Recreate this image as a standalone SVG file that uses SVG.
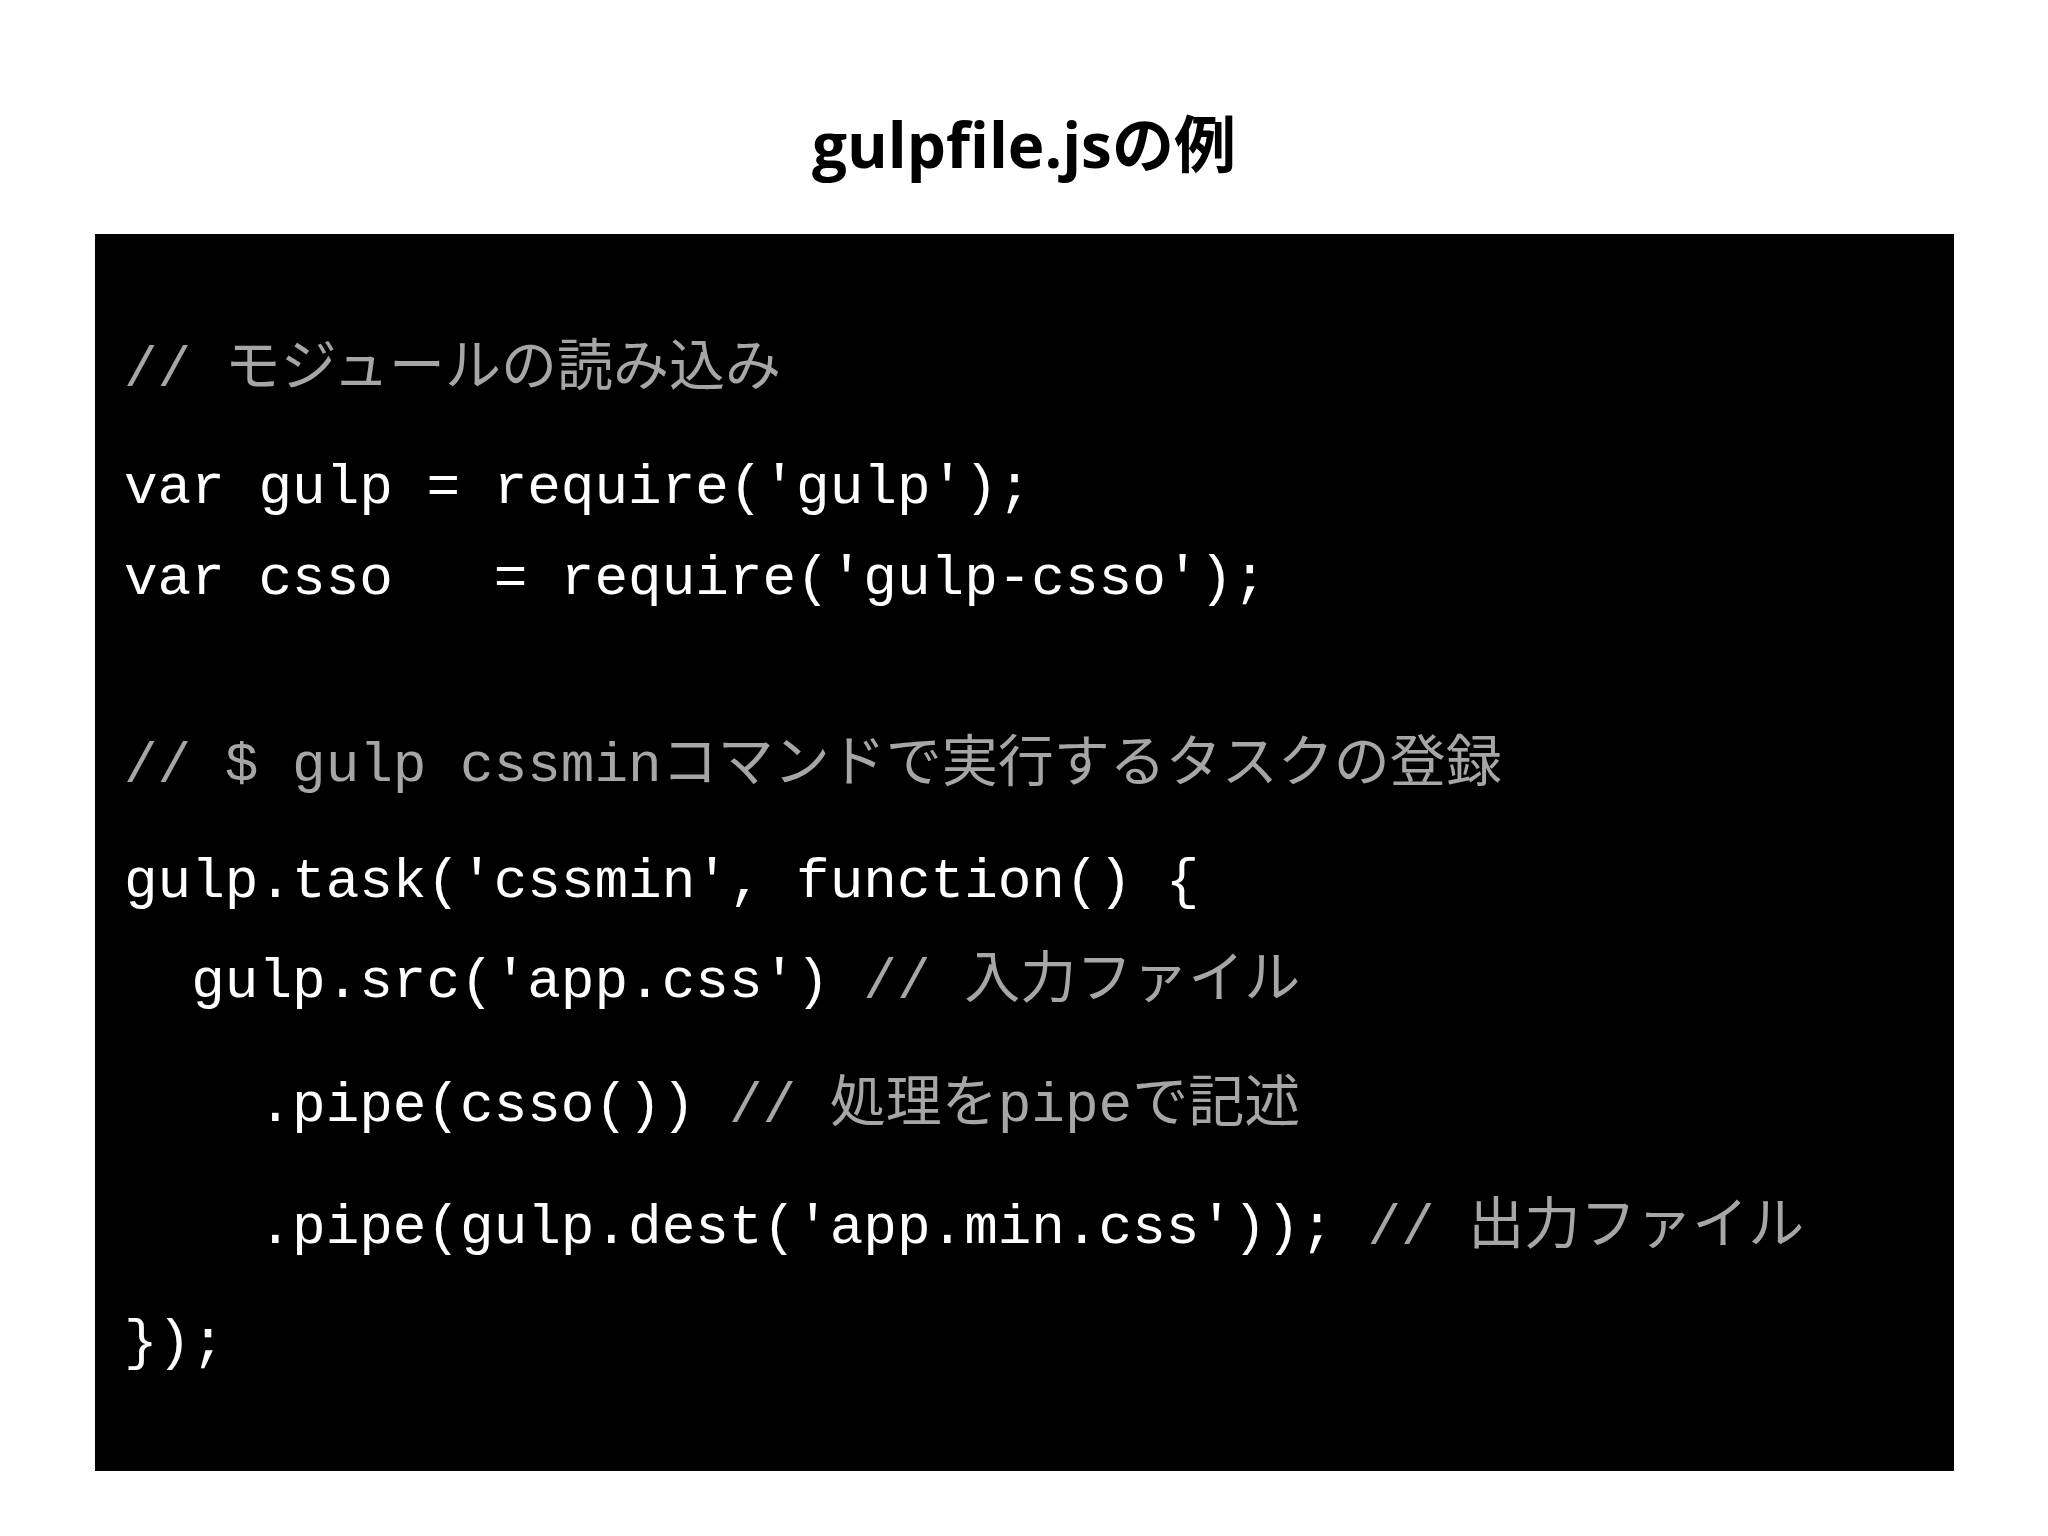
<svg xmlns="http://www.w3.org/2000/svg" width="2048" height="1536" viewBox="0 0 2048 1536">
<style>
.code{font-family:"Liberation Mono","Noto Sans CJK JP",monospace;font-size:56px;fill:#ffffff;white-space:pre}
.c{fill:#a6a6a6}
.title{font-family:"Open Sans","Noto Sans CJK JP",sans-serif;font-size:62px;font-weight:bold;fill:#000}
</style>
<rect width="2048" height="1536" fill="#ffffff"/>
<g id="title"><text class="title" x="1024" y="168" text-anchor="middle">gulpfile.jsの例</text></g>
<g id="codebox">
<rect x="95" y="234" width="1859" height="1237" fill="#000000"/>
<text class="code" xml:space="preserve" x="124" y="385"><tspan class="c">// モジュールの読み込み</tspan></text>
<text class="code" xml:space="preserve" x="124" y="503">var gulp = require('gulp');</text>
<text class="code" xml:space="preserve" x="124" y="594">var csso   = require('gulp-csso');</text>
<text class="code" xml:space="preserve" x="124" y="781"><tspan class="c">// $ gulp cssminコマンドで実行するタスクの登録</tspan></text>
<text class="code" xml:space="preserve" x="124" y="897">gulp.task('cssmin', function() {</text>
<text class="code" xml:space="preserve" x="124" y="997">  gulp.src('app.css') <tspan class="c">// 入力ファイル</tspan></text>
<text class="code" xml:space="preserve" x="124" y="1121">    .pipe(csso()) <tspan class="c">// 処理をpipeで記述</tspan></text>
<text class="code" xml:space="preserve" x="124" y="1243">    .pipe(gulp.dest('app.min.css')); <tspan class="c">// 出力ファイル</tspan></text>
<text class="code" xml:space="preserve" x="124" y="1358">});</text>
</g>
</svg>
